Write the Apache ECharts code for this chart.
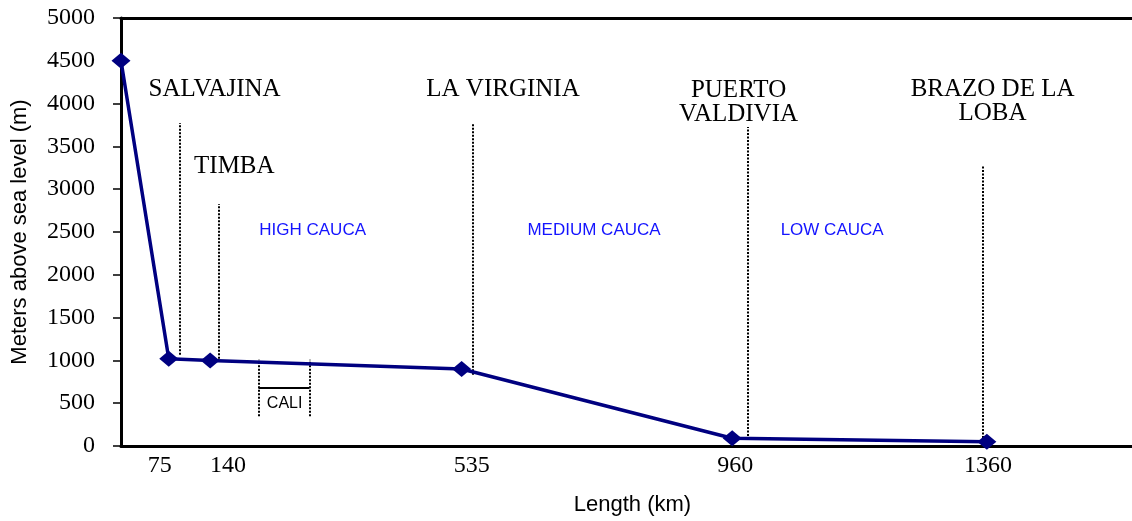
<!DOCTYPE html>
<html>
<head>
<meta charset="utf-8">
<script src="https://cdn.jsdelivr.net/npm/echarts@6/dist/echarts.min.js"></script>
<style>html,body{margin:0;padding:0;background:#fff;}#c{width:1132px;height:521px;}</style>
</head>
<body>
<div id="c"></div>
<script>
// Profile data: distance along river (km) and elevation (m)
const lengthKm = [0, 75, 140, 535, 960, 1360];
const elevationM = [4500, 1020, 1000, 900, 90, 50];

// X tick labels and where (in km) they are printed
const xTickLabels = ['75', '140', '535', '960', '1360'];
const xTickPos = [61, 168, 551, 965, 1362];

// Station names and their label anchors (km, m)
const stationNames = ['SALVAJINA', 'TIMBA', 'LA VIRGINIA', 'PUERTO\nVALDIVIA', 'BRAZO DE LA\nLOBA'];
const stationLabelX = [147, 178, 600, 970, 1369];
const stationLabelY = [4167, 3264, 4167, 4010, 4022];

// Dotted station marker lines (km, from m, to m)
const stationLineX = [93, 154, 553, 984, 1353];
const stationLineFrom = [1065, 1018, 833, 116, 93];
const stationLineTo = [3773, 2828, 3773, 3727, 3275];

// River sections
const sectionNames = ['HIGH CAUCA', 'MEDIUM CAUCA', 'LOW CAUCA'];
const sectionX = [301, 743, 1117];
const sectionY = [2523, 2523, 2523];

// Cali bracket (km, m)
const caliName = 'CALI';
const caliX = [216, 296];
const caliYRange = [347, 1007];
const caliBarY = 683;
const caliLabel = [257, 498];

const chart = echarts.init(document.getElementById('c'), null, {renderer: 'canvas'});

const serif = '"Liberation Serif", "Times New Roman", serif';
const sans = '"Liberation Sans", Arial, sans-serif';

const dotted = [];
for (let i = 0; i < stationLineX.length; i++) {
  dotted.push([{coord: [stationLineX[i], stationLineFrom[i]]}, {coord: [stationLineX[i], stationLineTo[i]]}]);
}
for (let i = 0; i < caliX.length; i++) {
  dotted.push([{coord: [caliX[i], caliYRange[0]]}, {coord: [caliX[i], caliYRange[1]]}]);
}

const plainLabel = {show: true, position: 'inside', formatter: p => p.name, textBorderWidth: 0, textShadowBlur: 0, opacity: 1};
const hiddenItem = {color: 'rgba(0,0,0,0)', opacity: 1};

const option = {
  animation: false,
  backgroundColor: '#fff',
  grid: {left: 121, top: 18, right: 0, bottom: 71, show: false},
  xAxis: [{
    type: 'value', min: 0, max: 1588,
    name: 'Length (km)', nameLocation: 'middle', nameGap: 48,
    nameTextStyle: {fontFamily: sans, fontSize: 22, color: '#000', padding: [0, 0, 0, 12]},
    axisLine: {show: true, onZero: false, lineStyle: {color: '#000', width: 3}},
    axisTick: {show: false},
    splitLine: {show: false},
    axisLabel: {
      customValues: xTickPos,
      formatter: function (v) { const i = xTickPos.indexOf(v); return i >= 0 ? xTickLabels[i] : ''; },
      fontFamily: serif, fontSize: 24, color: '#000', margin: 8
    }
  }, {
    type: 'value', min: 0, max: 1588, position: 'top',
    axisLine: {show: true, onZero: false, lineStyle: {color: '#000', width: 3}},
    axisTick: {show: false}, axisLabel: {show: false}, splitLine: {show: false}
  }],
  yAxis: {
    type: 'value', min: 0, max: 5000, interval: 500,
    name: 'Meters above sea level (m)', nameLocation: 'middle', nameGap: 90,
    nameTextStyle: {fontFamily: sans, fontSize: 22, color: '#000'},
    axisLine: {show: true, lineStyle: {color: '#000', width: 3}},
    axisTick: {show: true, inside: false, length: 8, lineStyle: {color: '#000', width: 1.5}},
    splitLine: {show: false},
    axisLabel: {fontFamily: serif, fontSize: 24, color: '#000', margin: 26, formatter: v => String(v)}
  },
  series: [
    {
      type: 'line',
      data: lengthKm.map((x, i) => [x, elevationM[i]]),
      symbol: 'diamond', symbolSize: [19, 16],
      lineStyle: {color: '#000080', width: 3.5},
      itemStyle: {color: '#000080'},
      z: 5,
      markLine: {
        silent: true, symbol: ['none', 'none'], label: {show: false},
        lineStyle: {color: '#000', width: 2, type: [2, 1.5]},
        data: dotted
      }
    },
    {
      type: 'line',
      data: [],
      markLine: {
        silent: true, symbol: ['none', 'none'], label: {show: false},
        lineStyle: {color: '#000', width: 2, type: 'solid'},
        data: [[{coord: [caliX[0], caliBarY]}, {coord: [caliX[1], caliBarY]}]]
      }
    },
    {
      type: 'scatter', silent: true, symbolSize: 1,
      itemStyle: hiddenItem,
      data: stationNames.map((n, i) => ({name: n, value: [stationLabelX[i], stationLabelY[i]]})),
      label: Object.assign({}, plainLabel, {fontFamily: serif, fontSize: 25, lineHeight: 24, color: '#000', align: 'center'})
    },
    {
      type: 'scatter', silent: true, symbolSize: 1,
      itemStyle: hiddenItem,
      data: sectionNames.map((n, i) => ({name: n, value: [sectionX[i], sectionY[i]]})),
      label: Object.assign({}, plainLabel, {fontFamily: sans, fontSize: 17, color: '#1414ff'})
    },
    {
      type: 'scatter', silent: true, symbolSize: 1,
      itemStyle: hiddenItem,
      data: [{name: caliName, value: caliLabel}],
      label: Object.assign({}, plainLabel, {fontFamily: sans, fontSize: 16, color: '#000'})
    }
  ]
};
chart.setOption(option);
</script>
</body>
</html>
